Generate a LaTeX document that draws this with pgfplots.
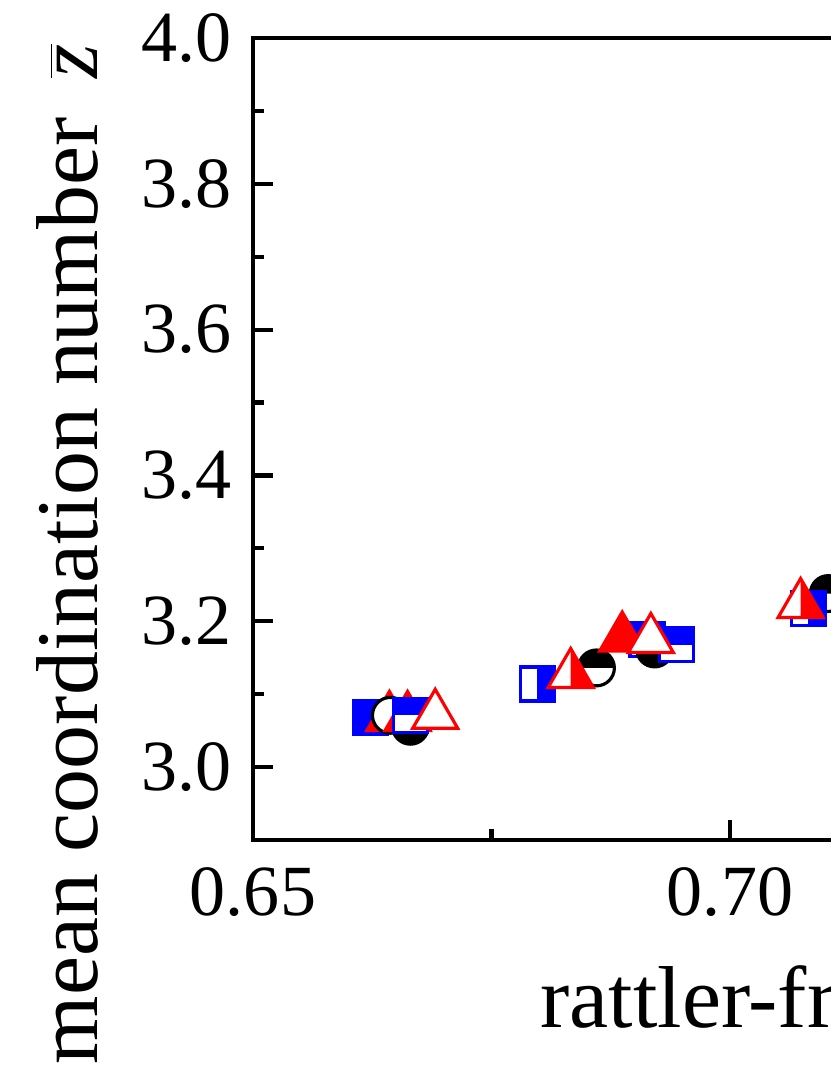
\documentclass[border=0pt]{standalone}
\usepackage{fontspec}
\setmainfont{Liberation Serif}
\usepackage{pgfplots}
\pgfplotsset{compat=1.18}

% half-filled marks
\newcommand{\sqpath}{\pgfpathrectangle{\pgfqpoint{-\pgfplotmarksize}{-\pgfplotmarksize}}{\pgfqpoint{2\pgfplotmarksize}{2\pgfplotmarksize}}}
\newcommand{\tripath}{\pgfpathmoveto{\pgfqpoint{0pt}{\pgfplotmarksize}}%
  \pgfpathlineto{\pgfqpoint{-0.866\pgfplotmarksize}{-0.5\pgfplotmarksize}}%
  \pgfpathlineto{\pgfqpoint{0.866\pgfplotmarksize}{-0.5\pgfplotmarksize}}\pgfpathclose}
\pgfdeclareplotmark{sqF}{\sqpath\pgfsetfillcolor{blue}\pgfusepathqfillstroke}
\pgfdeclareplotmark{sqR}{%
  \sqpath\pgfsetfillcolor{white}\pgfusepathqfill
  \pgfpathrectangle{\pgfqpoint{0pt}{-\pgfplotmarksize}}{\pgfqpoint{\pgfplotmarksize}{2\pgfplotmarksize}}%
  \pgfsetfillcolor{blue}\pgfusepathqfill
  \sqpath\pgfusepathqstroke}
\pgfdeclareplotmark{sqT}{%
  \sqpath\pgfsetfillcolor{white}\pgfusepathqfill
  \pgfpathrectangle{\pgfqpoint{-\pgfplotmarksize}{0pt}}{\pgfqpoint{2\pgfplotmarksize}{\pgfplotmarksize}}%
  \pgfsetfillcolor{blue}\pgfusepathqfill
  \sqpath\pgfusepathqstroke}
\pgfdeclareplotmark{ciO}{\pgfpathcircle{\pgfpointorigin}{\pgfplotmarksize}\pgfsetfillcolor{white}\pgfusepathqfillstroke}
\pgfdeclareplotmark{ciB}{%
  \pgfpathcircle{\pgfpointorigin}{\pgfplotmarksize}\pgfsetfillcolor{white}\pgfusepathqfill
  \pgfpathmoveto{\pgfqpoint{-\pgfplotmarksize}{0pt}}\pgfpatharc{180}{360}{\pgfplotmarksize}\pgfpathclose
  \pgfsetfillcolor{black}\pgfusepathqfill
  \pgfpathcircle{\pgfpointorigin}{\pgfplotmarksize}\pgfusepathqstroke}
\pgfdeclareplotmark{ciT}{%
  \pgfpathcircle{\pgfpointorigin}{\pgfplotmarksize}\pgfsetfillcolor{white}\pgfusepathqfill
  \pgfpathmoveto{\pgfqpoint{-\pgfplotmarksize}{0pt}}\pgfpatharc{180}{0}{\pgfplotmarksize}\pgfpathclose
  \pgfsetfillcolor{black}\pgfusepathqfill
  \pgfpathcircle{\pgfpointorigin}{\pgfplotmarksize}\pgfusepathqstroke}
\pgfdeclareplotmark{trF}{\tripath\pgfsetfillcolor{red}\pgfusepathqfillstroke}
\pgfdeclareplotmark{trO}{\tripath\pgfsetfillcolor{white}\pgfusepathqfillstroke}
\pgfdeclareplotmark{trR}{%
  \tripath\pgfsetfillcolor{white}\pgfusepathqfill
  \pgfpathmoveto{\pgfqpoint{0pt}{\pgfplotmarksize}}%
  \pgfpathlineto{\pgfqpoint{0.866\pgfplotmarksize}{-0.5\pgfplotmarksize}}%
  \pgfpathlineto{\pgfqpoint{0pt}{-0.5\pgfplotmarksize}}\pgfpathclose
  \pgfsetfillcolor{red}\pgfusepathqfill
  \tripath\pgfusepathqstroke}

\pgfplotsset{
  sq/.style={only marks, color=blue, mark size=4.85pt, mark options={line width=0.9pt}},
  ci/.style={only marks, color=black, mark size=5.1pt, mark options={line width=0.9pt}},
  tr/.style={only marks, color=red, mark size=7.4pt, mark options={line width=0.9pt}},
}

\begin{document}
\begin{tikzpicture}[trim left=-2.53cm, trim right=5.77cm]
\path (-2.53,-2.35) rectangle (5.77,8.40);
\begin{axis}[
    at={(0,0)}, anchor=south west,
    scale only axis,
    width=9.54cm, height=8.02cm,
    xmin=0.65, xmax=0.75,
    ymin=2.9, ymax=4.0,
    xtick={0.65,0.70},
    minor xtick={0.675,0.725},
    ytick={3.0,3.2,3.4,3.6,3.8,4.0},
    minor ytick={3.1,3.3,3.5,3.7,3.9},
    tick pos=left,
    tick align=inside,
    major tick length=0.2cm,
    minor tick length=0.11cm,
    every tick/.style={black, line width=1.2pt},
    axis line style={line width=1.2pt},
    xticklabel style={/pgf/number format/.cd, fixed, fixed zerofill, precision=2, assume math mode=true,
        /tikz/.cd, font=\fontsize{20.5}{24}\selectfont, inner sep=0pt, yshift=-0.27cm},
    yticklabel style={/pgf/number format/.cd, fixed, fixed zerofill, precision=1, assume math mode=true,
        /tikz/.cd, font=\fontsize{20.5}{24}\selectfont, inner sep=0pt, xshift=-0.21cm},
    xlabel={rattler-free packing fraction},
    xlabel style={at={(rel axis cs:0.3008,-0.2344)}, anchor=base west, inner sep=0pt,
        font=\fontsize{25}{30}\selectfont},
    ylabel={mean coordination number\hspace{0.45em}$\overline{\mbox{\itshape z}}$},
    ylabel style={at={(rel axis cs:-0.1635,-0.2805)}, anchor=base west, inner sep=0pt,
        font=\fontsize{25}{30}\selectfont},
]
% group near 0.665
\addplot[sq, mark=sqF] coordinates {(0.6623,3.068)};
\addplot[tr, mark=trF] coordinates {(0.6643,3.068)};
\addplot[ci, mark=ciO] coordinates {(0.6644,3.071)};
\addplot[ci, mark=ciB] coordinates {(0.6665,3.056)};
\addplot[tr, mark=trF] coordinates {(0.6662,3.068)};
\addplot[sq, mark=sqT] coordinates {(0.6665,3.071)};
\addplot[tr, mark=trO] coordinates {(0.6691,3.071)};
% group near 0.685
\addplot[sq, mark=sqR] coordinates {(0.6798,3.114)};
\addplot[ci, mark=ciT] coordinates {(0.6860,3.136)};
\addplot[tr, mark=trR] coordinates {(0.6833,3.127)};
\addplot[sq, mark=sqT] coordinates {(0.6913,3.175)};
\addplot[ci, mark=ciB] coordinates {(0.6921,3.162)};
\addplot[tr, mark=trF] coordinates {(0.6887,3.177)};
\addplot[sq, mark=sqT] coordinates {(0.6944,3.168)};
\addplot[tr, mark=trO] coordinates {(0.6917,3.175)};
% group near 0.708
\addplot[ci, mark=ciT] coordinates {(0.7103,3.238)};
\addplot[sq, mark=sqR] coordinates {(0.7082,3.218)};
\addplot[tr, mark=trR] coordinates {(0.7074,3.223)};
\end{axis}
\end{tikzpicture}
\end{document}
